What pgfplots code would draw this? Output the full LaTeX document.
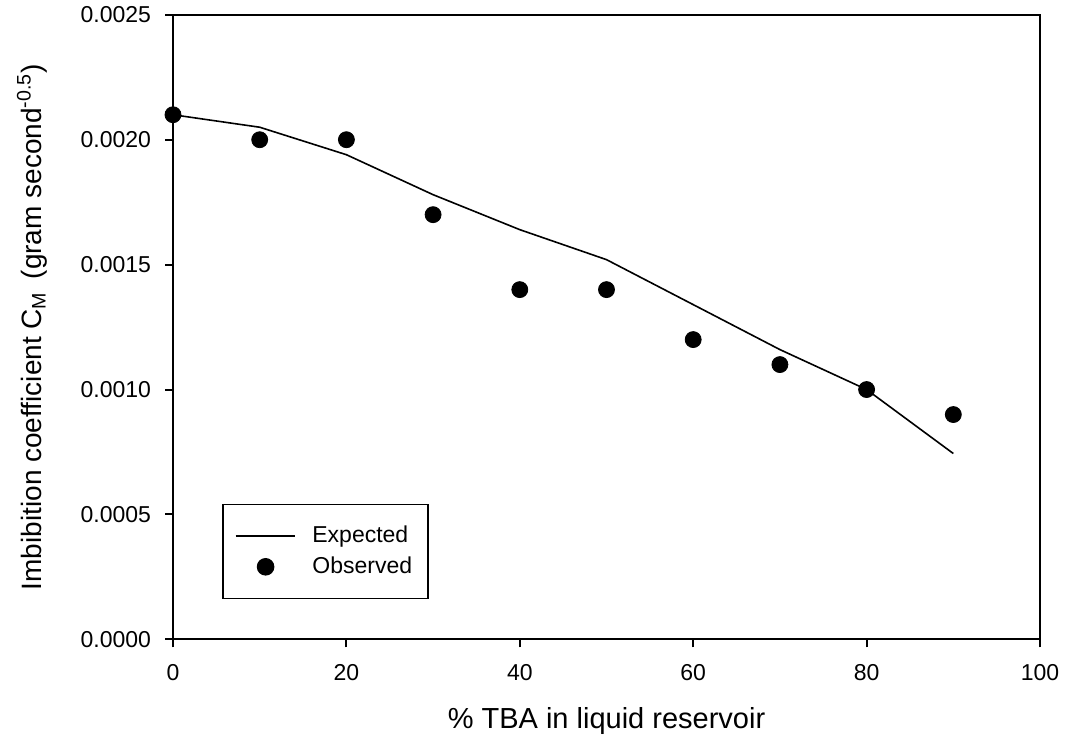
\documentclass[border=0pt]{standalone}
\usepackage{fontspec}
\setmainfont{Liberation Sans}
\usepackage{pgfplots}
\pgfplotsset{compat=1.18}
\pgfplotsset{
    lineleg/.style={legend image code/.code={\draw[##1] (0pt,0pt) -- (29.5pt,0pt); \path (36pt,0pt);}},
    dotleg/.style={legend image code/.code={\draw[##1] plot coordinates {(15pt,0pt)}; \path (36pt,0pt);}},
}

\begin{document}
\begin{tikzpicture}[font=\fontsize{11.5}{13.8}\selectfont]
\begin{axis}[
    width              = 433.5pt,
    height             = 312.3pt,
    scale only axis,
    xmin = 0, xmax = 100,
    ymin = 0, ymax = 0.0025,
    xtick = {0,20,...,100},
    ytick = {0,0.0005,0.001,0.0015,0.002,0.0025},
    scaled y ticks     = false,
    yticklabel style   = {xshift=-3.5pt, /pgf/number format/.cd, fixed, fixed zerofill, precision=4},
    /pgf/number format/assume math mode=true,
    xticklabel style   = {yshift=-5pt},
    tick align         = outside,
    major tick length  = 4pt,
    xtick pos          = bottom,
    ytick pos          = left,
    axis line style    = {line width=1pt},
    every tick/.style  = {black, line width=1pt},
    xlabel             = {\% TBA in liquid reservoir},
    ylabel             = {Imbibition coefficient C\textsubscript{M}\, (gram second\textsuperscript{-0.5})},
    xlabel style       = {at={(axis description cs:0.5,-0.130)}, anchor=center,
                          font=\fontsize{14.5}{17}\selectfont},
    ylabel style       = {at={(axis description cs:-0.1626,0.5)}, anchor=center,
                          font=\fontsize{14}{16.8}\selectfont},
    legend style       = {at={(axis description cs:0.0565,0.064)}, anchor=south west,
                          draw=black, line width=0.8pt, inner xsep=6pt, inner ysep=9pt,
                          row sep=1.5pt, font=\fontsize{11.5}{13.8}\selectfont},
    legend cell align  = left,
]
\addplot[black, line width=0.8pt, lineleg] coordinates {
    (0,0.00210) (10,0.00205) (20,0.00194) (30,0.00178) (40,0.00164)
    (50,0.00152) (60,0.00134) (70,0.00116) (80,0.00100) (90,0.000744)
};
\addplot[only marks, mark=*, mark size=4pt, black, dotleg] coordinates {
    (0,0.0021) (10,0.0020) (20,0.0020) (30,0.0017) (40,0.0014)
    (50,0.0014) (60,0.0012) (70,0.0011) (80,0.0010) (90,0.0009)
};
\legend{Expected, Observed}
\end{axis}
\path ([shift={(-86.5pt,-52.7pt)}]current axis.south west)
      rectangle ([shift={(14.5pt,6pt)}]current axis.north east);
\end{tikzpicture}
\end{document}
